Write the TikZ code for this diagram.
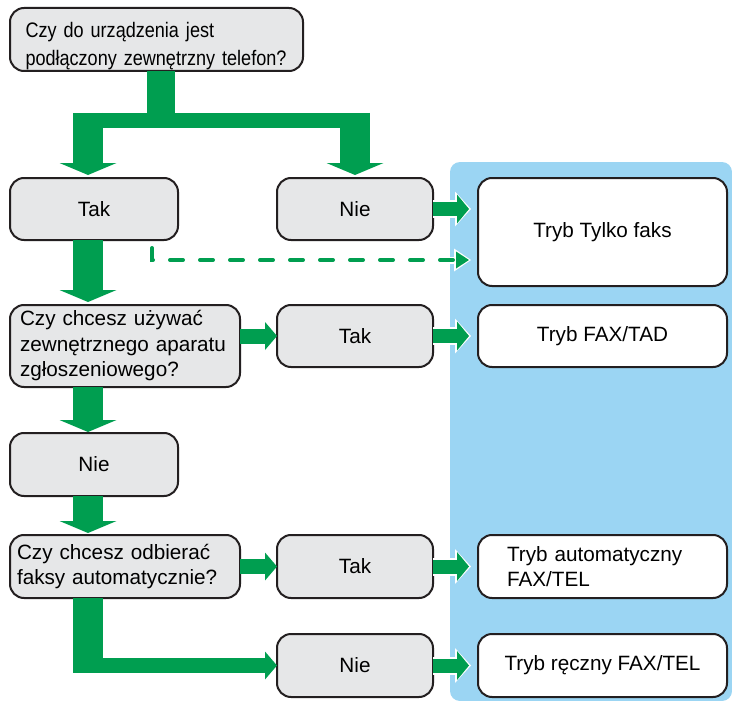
\documentclass[tikz,border=0pt]{standalone}
\usepackage{fontspec}
\setmainfont{Liberation Sans}
\newfontfamily\narrowsans[FakeStretch=0.86]{Liberation Sans}
\usetikzlibrary{arrows.meta, positioning, calc}

\definecolor{flowgreen}{RGB}{0,158,80}
\definecolor{panelblue}{RGB}{155,213,243}
\definecolor{boxgrey}{RGB}{230,231,232}
\definecolor{edgegrey}{RGB}{35,31,32}

\begin{document}
\begin{tikzpicture}[
    x=1pt, y=-1pt,
    box/.style={draw=edgegrey, line width=2pt, rounded corners=14pt, fill=boxgrey, inner sep=0pt, outer sep=0pt, minimum height=62pt, font=\fontsize{20.7}{25.5}\selectfont},
    answer/.style={box, minimum width=156pt, align=center},
    question/.style={box, align=left},
    mode/.style={box, fill=white, minimum width=249pt, align=center},
    downflow/.style={draw=flowgreen, line width=30pt, -{Triangle[length=12pt, width=57pt, line width=0pt]}},
    sideflow/.style={draw=flowgreen, line width=15pt, -{Triangle[length=12pt, width=28pt, line width=0pt]}},
    outflow/.style={draw=flowgreen, line width=14pt, shorten >=9pt, -{Triangle[length=12pt, width=29pt, line width=0pt]},
        preaction={draw=white, line width=18pt, shorten >=7pt, -{Triangle[length=16pt, width=35pt, line width=0pt]}}},
    dashflow/.style={draw=flowgreen, line width=4pt, dash pattern=on 13pt off 17pt, line cap=round, shorten >=9pt, -{Triangle[length=13pt, width=17pt, line width=0pt]},
        preaction={draw=white, solid, line width=7pt, shorten >=7pt, -{Triangle[length=17pt, width=23pt, line width=0pt]}}}
]
    \useasboundingbox (0,0) rectangle (732,701);

    % panel behind the modes
    \fill[panelblue, rounded corners=10pt] (450,162) rectangle (732,701);

    \coordinate (lane) at (88,0);
    \coordinate (split) at (161,120.5);

    % questions and answers
    \node[question, anchor=north west, text width=262pt, inner xsep=15.5pt, minimum height=63pt, font=\narrowsans\fontsize{21}{28}\selectfont] (phone) at (10,8) {\rule{0pt}{28pt}Czy do urządzenia jest\\podłączony zewnętrzny telefon?};
    \node[answer, minimum width=168pt, below right=107pt and 0pt of phone.south west] (phoneyes) {Tak};
    \node[answer, right=99pt of phoneyes] (phoneno) {Nie};

    \node[question, text width=210pt, inner xsep=10pt, minimum height=82pt, below right=65pt and 0pt of phoneyes.south west] (tad) {Czy chcesz używać\\zewnętrznego aparatu\\zgłoszeniowego?};
    \node[answer, right=37pt of tad.north east, anchor=north west] (tadyes) {Tak};
    \node[answer, minimum width=168pt, minimum height=63pt, below right=46pt and 0pt of tad.south west] (tadno) {Nie};

    \node[question, text width=216pt, inner xsep=7pt, minimum height=63pt, below right=39pt and 0pt of tadno.south west] (auto) {Czy chcesz odbierać\\faksy automatycznie?};
    \node[answer, minimum height=63pt, right=37pt of auto] (autoyes) {Tak};
    \node[answer, minimum height=63pt, below=36pt of autoyes] (autono) {Nie};

    % modes
    \node[mode, minimum height=108pt, right=45pt of phoneno.north east, anchor=north west] (faxonly) {Tryb Tylko faks};
    \node[mode, right=45pt of tadyes] (faxtad) {Tryb FAX/TAD};
    \node[mode, minimum height=63pt, align=left, text width=191pt, inner xsep=29pt, right=45pt of autoyes] (faxtel) {Tryb automatyczny\\FAX/TEL};
    \node[mode, minimum height=63pt, right=45pt of autono] (manual) {Tryb ręczny FAX/TEL};

    % split below the first question
    \draw[flowgreen, line width=28pt] (phone.south -| split) -- ($(split)+(0,7.5)$);
    \draw[flowgreen, line width=15pt] ($(split -| lane)+(-15,0)$) -- ($(split -| phoneno)+(15,0)$);
    \draw[downflow, shorten >=3pt] ($(split -| lane)+(0,-7.5)$) -- (phoneyes.north -| lane);
    \draw[downflow, shorten >=3pt] ($(split -| phoneno)+(0,-7.5)$) -- (phoneno.north);

    \draw[downflow, shorten >=3pt] (phoneyes.south -| lane) -- (tad.north -| lane);
    \draw[downflow, shorten >=1pt] (tad.south -| lane) -- (tadno.north -| lane);
    \draw[downflow, shorten >=2pt] (tadno.south -| lane) -- (auto.north -| lane);

    \draw[sideflow] (tad.east |- tadyes) -- (tadyes.west);
    \draw[sideflow] (auto.east |- autoyes) -- (autoyes.west);
    \draw[flowgreen, line width=30pt] (auto.south -| lane) -- ($(autono.west -| lane)+(0,7.5)$);
    \draw[sideflow] ($(autono.west -| lane)+(-15,0)$) -- (autono.west);

    % into the modes
    \draw[outflow] (phoneno) -- (phoneno -| faxonly.west);
    \draw[dashflow] ($(phoneyes.south east)+(-26,8)$) |- ($(faxonly.west)+(0,28)$);
    \draw[outflow] (tadyes) -- (faxtad);
    \draw[outflow] (autoyes) -- (faxtel);
    \draw[outflow] (autono) -- (manual);
\end{tikzpicture}
\end{document}
